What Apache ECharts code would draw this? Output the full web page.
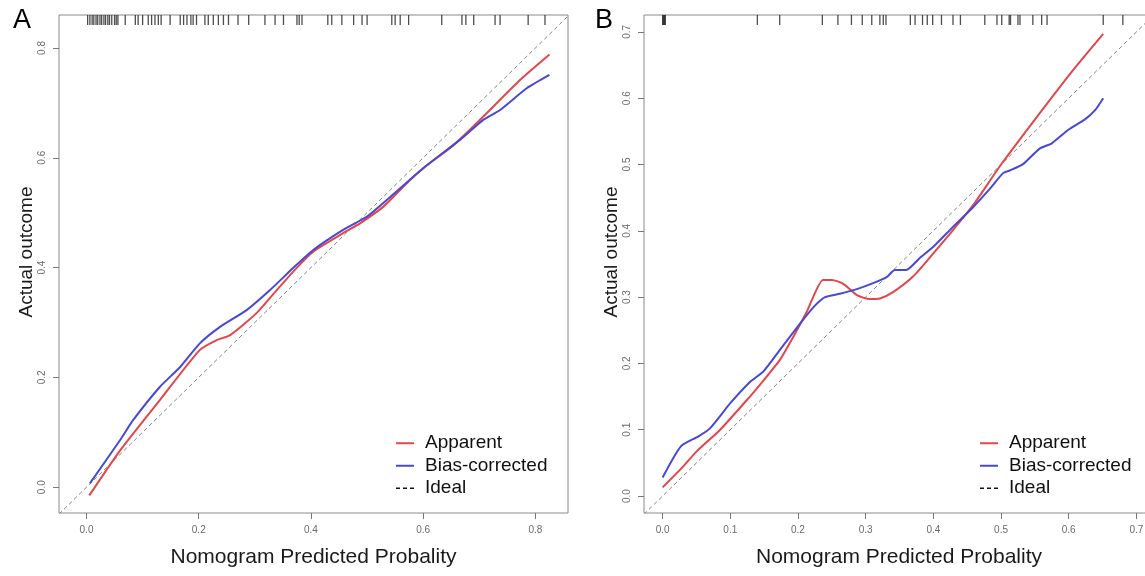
<!DOCTYPE html>
<html>
<head>
<meta charset="utf-8">
<title>Calibration curves</title>
<script src="https://cdn.jsdelivr.net/npm/echarts@6/dist/echarts.min.js"></script>
<style>
  html, body { margin: 0; padding: 0; background: #fff; overflow: hidden; }
  #chart { width: 1160px; height: 576px; }
</style>
</head>
<body>
<div id="chart"></div>
<script>
// ---- Panel A: calibration curve, training cohort ----
const ticksA = [0, 0.2, 0.4, 0.6, 0.8];
const apparentA = [
  [0.005, -0.015], [0.060, 0.067], [0.131, 0.159], [0.202, 0.250], [0.232, 0.268],
  [0.256, 0.277], [0.303, 0.317], [0.339, 0.359], [0.375, 0.400], [0.404, 0.429],
  [0.458, 0.463], [0.488, 0.481], [0.529, 0.511], [0.577, 0.560], [0.600, 0.581],
  [0.654, 0.623], [0.707, 0.675], [0.773, 0.742], [0.825, 0.788]
];
const biasCorrectedA = [
  [0.006, 0.007], [0.060, 0.086], [0.083, 0.122], [0.131, 0.183], [0.167, 0.219],
  [0.202, 0.262], [0.238, 0.292], [0.286, 0.323], [0.327, 0.359], [0.369, 0.400],
  [0.404, 0.432], [0.458, 0.469], [0.500, 0.493], [0.535, 0.523], [0.600, 0.581],
  [0.666, 0.633], [0.707, 0.669], [0.737, 0.687], [0.785, 0.727], [0.825, 0.751]
];
// predicted probabilities of the individual patients (rug along the top)
const rugA = [
  0.002, 0.006, 0.010, 0.013, 0.017, 0.020, 0.024, 0.027, 0.031, 0.034, 0.038, 0.041,
  0.045, 0.050, 0.053, 0.056, 0.069, 0.087, 0.092, 0.100, 0.110, 0.116, 0.122, 0.128,
  0.133, 0.149, 0.167, 0.173, 0.179, 0.186, 0.190, 0.196, 0.211, 0.217, 0.226, 0.235,
  0.244, 0.253, 0.270, 0.289, 0.318, 0.336, 0.351, 0.375, 0.379, 0.384, 0.430, 0.437,
  0.455, 0.476, 0.491, 0.500, 0.544, 0.550, 0.559, 0.574, 0.633, 0.669, 0.676, 0.690,
  0.728, 0.737, 0.787, 0.817
];

// ---- Panel B: calibration curve, validation cohort ----
const ticksB = [0, 0.1, 0.2, 0.3, 0.4, 0.5, 0.6, 0.7];
const apparentB = [
  [0.000, 0.013], [0.028, 0.042], [0.050, 0.067], [0.085, 0.100], [0.129, 0.150],
  [0.144, 0.168], [0.173, 0.205], [0.193, 0.240], [0.213, 0.278], [0.237, 0.326],
  [0.250, 0.326], [0.267, 0.320], [0.287, 0.303], [0.306, 0.297], [0.321, 0.298],
  [0.341, 0.308], [0.370, 0.331], [0.400, 0.366], [0.429, 0.401], [0.459, 0.439],
  [0.498, 0.497], [0.557, 0.577], [0.607, 0.643], [0.651, 0.697]
];
const biasCorrectedB = [
  [0.000, 0.028], [0.027, 0.075], [0.053, 0.090], [0.070, 0.102], [0.100, 0.140],
  [0.129, 0.172], [0.149, 0.188], [0.173, 0.220], [0.203, 0.260], [0.223, 0.285],
  [0.240, 0.300], [0.262, 0.305], [0.287, 0.312], [0.311, 0.321], [0.331, 0.330],
  [0.343, 0.341], [0.360, 0.341], [0.380, 0.359], [0.400, 0.376], [0.429, 0.406],
  [0.459, 0.436], [0.484, 0.464], [0.503, 0.487], [0.513, 0.491], [0.533, 0.501],
  [0.557, 0.524], [0.575, 0.532], [0.599, 0.552], [0.624, 0.568], [0.639, 0.582],
  [0.651, 0.600]
];
const rugB = [
  0.000, 0.001, 0.002, 0.003, 0.004, 0.140, 0.173, 0.236, 0.259, 0.279, 0.295, 0.309,
  0.321, 0.326, 0.330, 0.366, 0.373, 0.384, 0.391, 0.399, 0.412, 0.429, 0.440, 0.476,
  0.494, 0.501, 0.512, 0.514, 0.525, 0.528, 0.547, 0.560, 0.568, 0.651, 0.680
];

// axis limits (R-style 4% padding around the data)
const limA = { xmin: -0.049, xmax: 0.858, ymin: -0.047, ymax: 0.860 };
const limB = { xmin: -0.0275, xmax: 0.726, ymin: -0.0256, ymax: 0.7255 };

const FONT = '"Liberation Sans", Arial, Helvetica, sans-serif';
const RED = '#e2474a';
const BLUE = '#4848d6';

function xAxisFor(gridIndex, lim, ticks) {
  return {
    type: 'value', gridIndex, min: lim.xmin, max: lim.xmax,
    name: 'Nomogram Predicted Probality', nameLocation: 'middle', nameGap: 34,
    nameTextStyle: { fontFamily: FONT, fontSize: 21, color: '#1a1a1a' },
    axisLine: { show: false, onZero: false },
    splitLine: { show: false },
    axisTick: { show: true, inside: false, length: 6, customValues: ticks,
                lineStyle: { color: '#777', width: 1 } },
    axisLabel: { customValues: ticks, margin: 12, fontFamily: FONT, fontSize: 10, color: '#6a6a6a',
                 formatter: v => v.toFixed(1) }
  };
}
function yAxisFor(gridIndex, lim, ticks) {
  return {
    type: 'value', gridIndex, min: lim.ymin, max: lim.ymax,
    name: 'Actual outcome', nameLocation: 'middle', nameGap: 20,
    nameTextStyle: { fontFamily: FONT, fontSize: 19, color: '#1a1a1a', padding: [0, 0, 0, 24] },
    axisLine: { show: false, onZero: false },
    splitLine: { show: false },
    axisTick: { show: true, inside: false, length: 6, customValues: ticks,
                lineStyle: { color: '#777', width: 1 } },
    axisLabel: { customValues: ticks, rotate: 90, margin: 12, fontFamily: FONT, fontSize: 10,
                 color: '#6a6a6a', formatter: v => v.toFixed(1) }
  };
}

function curve(name, data, color, xi, yi) {
  return {
    type: 'line', name, data, xAxisIndex: xi, yAxisIndex: yi,
    symbol: 'none', smooth: 0.2, silent: true,
    lineStyle: { color, width: 2 }, itemStyle: { color }
  };
}
function ideal(lim, xi, yi) {
  const lo = Math.min(lim.xmin, lim.ymin), hi = Math.max(lim.xmax, lim.ymax) + 0.05;
  return {
    type: 'line', name: 'Ideal', data: [[lo, lo], [hi, hi]], xAxisIndex: xi, yAxisIndex: yi,
    symbol: 'none', silent: true, clip: true, z: 1,
    lineStyle: { color: '#858585', width: 1, type: [4, 3] }, itemStyle: { color: '#111' }
  };
}
function rug(values, lim, xi, yi) {
  return {
    type: 'scatter', name: 'rug', data: values.map(v => [v, lim.ymax]),
    xAxisIndex: xi, yAxisIndex: yi, silent: true, clip: false,
    symbol: 'rect', symbolSize: [1.3, 10], symbolOffset: [0, 5],
    itemStyle: { color: '#222' }
  };
}
function legendAt(left) {
  return {
    orient: 'vertical', left, top: 433, padding: 0,
    itemWidth: 18, itemHeight: 14, itemGap: 2,
    selectedMode: false,
    itemStyle: { opacity: 0 },
    textStyle: { fontFamily: FONT, fontSize: 19, color: '#111', lineHeight: 20.5, padding: [0, 0, 0, 6] },
    data: [
      { name: 'Apparent' },
      { name: 'Bias-corrected' },
      { name: 'Ideal', lineStyle: { color: '#111', width: 1.5, type: [4, 3] } }
    ]
  };
}

const chart = echarts.init(document.getElementById('chart'), null, { renderer: 'canvas' });
chart.setOption({
  animation: false,
  backgroundColor: '#fff',
  title: [
    { text: 'A', left: 8, top: 2, textStyle: { fontFamily: FONT, fontSize: 27, fontWeight: 'normal', color: '#000' } },
    { text: 'B', left: 590, top: 2, textStyle: { fontFamily: FONT, fontSize: 27, fontWeight: 'normal', color: '#000' } }
  ],
  grid: [
    { left: 59, top: 15, width: 509, height: 498, show: true, borderColor: '#8a8a8a', borderWidth: 1, containLabel: false },
    { left: 644, top: 15, width: 510, height: 498, show: true, borderColor: '#8a8a8a', borderWidth: 1, containLabel: false }
  ],
  xAxis: [xAxisFor(0, limA, ticksA), xAxisFor(1, limB, ticksB)],
  yAxis: [yAxisFor(0, limA, ticksA), yAxisFor(1, limB, ticksB)],
  legend: [legendAt(395), legendAt(979)],
  series: [
    ideal(limA, 0, 0),
    curve('Apparent', apparentA, RED, 0, 0),
    curve('Bias-corrected', biasCorrectedA, BLUE, 0, 0),
    rug(rugA, limA, 0, 0),
    ideal(limB, 1, 1),
    curve('Apparent', apparentB, RED, 1, 1),
    curve('Bias-corrected', biasCorrectedB, BLUE, 1, 1),
    rug(rugB, limB, 1, 1)
  ]
});
</script>
</body>
</html>
